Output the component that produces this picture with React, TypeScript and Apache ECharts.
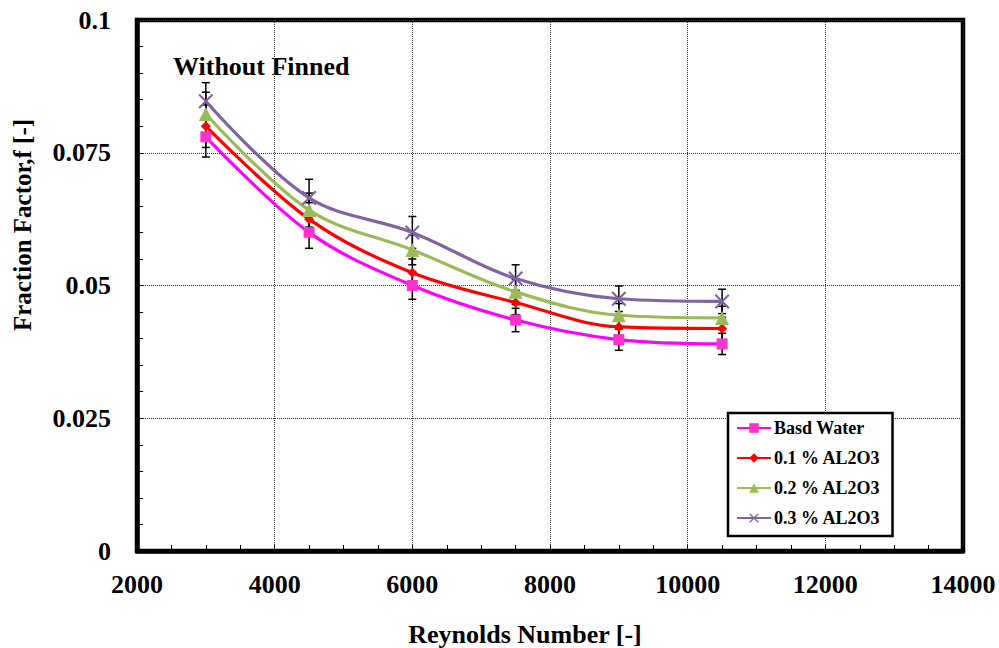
import React, { useEffect, useRef } from "react";
import * as echarts from "echarts";

const reynolds = [3000, 4500, 6000, 7500, 9000, 10500];
const seriesNames = ["Basd Water", "0.1 % AL2O3", "0.2 % AL2O3", "0.3 % AL2O3"];
const baseWater = [0.078, 0.06, 0.05, 0.0435, 0.0398, 0.039];
const al01 = [0.08, 0.0625, 0.0524, 0.0468, 0.0422, 0.0419];
const al02 = [0.0823, 0.0642, 0.0567, 0.0488, 0.0444, 0.0439];
const al03 = [0.0847, 0.0665, 0.06, 0.0513, 0.0475, 0.047];
const errBase = [0.0038, 0.003, 0.0026, 0.0022, 0.002, 0.002];
const err01 = [0.004, 0.0031, 0.0026, 0.0023, 0.0021, 0.0021];
const err02 = [0.0041, 0.0032, 0.0028, 0.0024, 0.0022, 0.0022];
const err03 = [0.0035, 0.0035, 0.003, 0.0026, 0.0024, 0.0023];
const xTicks = { min: 2000, max: 14000, interval: 2000 };
const yTicks = { min: 0, max: 0.1, interval: 0.025 };

const FONT = "Liberation Serif";

export default function App() {
  const ref = useRef<HTMLDivElement>(null);
  useEffect(() => {
    if (!ref.current) return;
    const chart = echarts.init(ref.current, undefined, { renderer: "svg" });
    const values = [baseWater, al01, al02, al03];
    const errs = [errBase, err01, err02, err03];
    const lineColors = ["#FF00FF", "#FF0000", "#9BBB59", "#8064A2"];
    const markerColors = ["#FF33CC", "#FF0000", "#9BBB59", "#8064A2"];
    const symbols = [
      "rect",
      "diamond",
      "triangle",
      "path://M0,1 L1,0 L5,4 L9,0 L10,1 L6,5 L10,9 L9,10 L5,6 L1,10 L0,9 L4,5 Z",
    ];
    const symbolSizes = [11, 10, 14, 15];

    const errData: number[][] = [];
    values.forEach((vals, si) => {
      vals.forEach((v, i) => {
        errData.push([reynolds[i], v - errs[si][i], v + errs[si][i]]);
      });
    });

    const lineSeries = values.map((vals, si) => ({
      name: seriesNames[si],
      type: "line",
      smooth: 0.35,
      data: vals.map((v, i) => [reynolds[i], v]),
      symbol: symbols[si],
      symbolSize: symbolSizes[si],
      showSymbol: true,
      lineStyle: { color: lineColors[si], width: 3.2 },
      itemStyle: { color: markerColors[si] },
      z: 3,
    }));

    const errorSeries = {
      type: "custom",
      name: "err",
      z: 2,
      data: errData,
      renderItem: (params: any, api: any) => {
        const x = api.value(0);
        const lo = api.coord([x, api.value(1)]);
        const hi = api.coord([x, api.value(2)]);
        const cap = 4;
        const style = { stroke: "#000", lineWidth: 1.5 };
        return {
          type: "group",
          children: [
            { type: "line", shape: { x1: lo[0], y1: lo[1], x2: hi[0], y2: hi[1] }, style },
            { type: "line", shape: { x1: lo[0] - cap, y1: lo[1], x2: lo[0] + cap, y2: lo[1] }, style },
            { type: "line", shape: { x1: hi[0] - cap, y1: hi[1], x2: hi[0] + cap, y2: hi[1] }, style },
          ],
        };
      },
    };

    const labelStyle = {
      color: "#000",
      fontFamily: FONT,
      fontWeight: "bold",
      fontSize: 26,
    };

    chart.setOption({
      animation: false,
      backgroundColor: "#fff",
      grid: {
        left: 137,
        right: 36,
        top: 20,
        bottom: 97,
        show: true,
        borderColor: "#000",
        borderWidth: 4.5,
        containLabel: false,
      },
      xAxis: {
        type: "value",
        min: xTicks.min,
        max: xTicks.max,
        interval: xTicks.interval,
        axisLine: { show: true, lineStyle: { color: "#000", width: 4.5 } },
        axisTick: { show: true, inside: true, length: 6, lineStyle: { color: "#000", width: 1 } },
        minorTick: { show: true, splitNumber: 4, length: 6, lineStyle: { color: "#000", width: 1 } },
        splitLine: { show: true, lineStyle: { color: "#333", width: 1, type: [1, 1] } },
        axisLabel: { ...labelStyle, margin: 20, formatter: (v: number) => String(v) },
      },
      yAxis: {
        type: "value",
        min: yTicks.min,
        max: yTicks.max,
        interval: yTicks.interval,
        axisLine: { show: true, lineStyle: { color: "#000", width: 4.5 } },
        axisTick: { show: true, inside: true, length: 6, lineStyle: { color: "#000", width: 1 } },
        minorTick: { show: true, splitNumber: 5, length: 6, lineStyle: { color: "#000", width: 1 } },
        splitLine: { show: true, lineStyle: { color: "#333", width: 1, type: [1, 1] } },
        axisLabel: {
          ...labelStyle,
          margin: 26,
          formatter: (v: number) => String(+v.toFixed(3)),
        },
      },
      legend: {
        data: seriesNames,
        orient: "vertical",
        left: 728,
        top: 413,
        backgroundColor: "#fff",
        borderColor: "#000",
        borderWidth: 2.5,
        borderRadius: 0,
        padding: [6, 12, 9, 8],
        itemWidth: 34,
        itemHeight: 12,
        itemGap: 12,
        textStyle: {
          color: "#000",
          fontFamily: FONT,
          fontWeight: "bold",
          fontSize: 18,
          padding: [0, 0, 0, -2],
        },
      },
      graphic: [
        {
          type: "text",
          left: 173,
          top: 53,
          style: {
            text: "Without Finned",
            fill: "#000",
            fontFamily: FONT,
            fontWeight: "bold",
            fontSize: 26,
          },
        },
        {
          type: "text",
          x: 525,
          y: 634,
          style: {
            text: "Reynolds Number [-]",
            fill: "#000",
            fontFamily: FONT,
            fontWeight: "bold",
            fontSize: 26,
            align: "center",
            verticalAlign: "middle",
          },
        },
        {
          type: "text",
          x: 22,
          y: 225,
          rotation: Math.PI / 2,
          style: {
            text: "Fraction Factor,f [-]",
            fill: "#000",
            fontFamily: FONT,
            fontWeight: "bold",
            fontSize: 25,
            align: "center",
            verticalAlign: "middle",
          },
        },
      ],
      series: [errorSeries, ...lineSeries],
    });
    return () => chart.dispose();
  }, []);
  return (
    <div
      ref={ref}
      style={{ position: "fixed", left: 0, top: 0, width: 999, height: 648, background: "#fff" }}
    />
  );
}
